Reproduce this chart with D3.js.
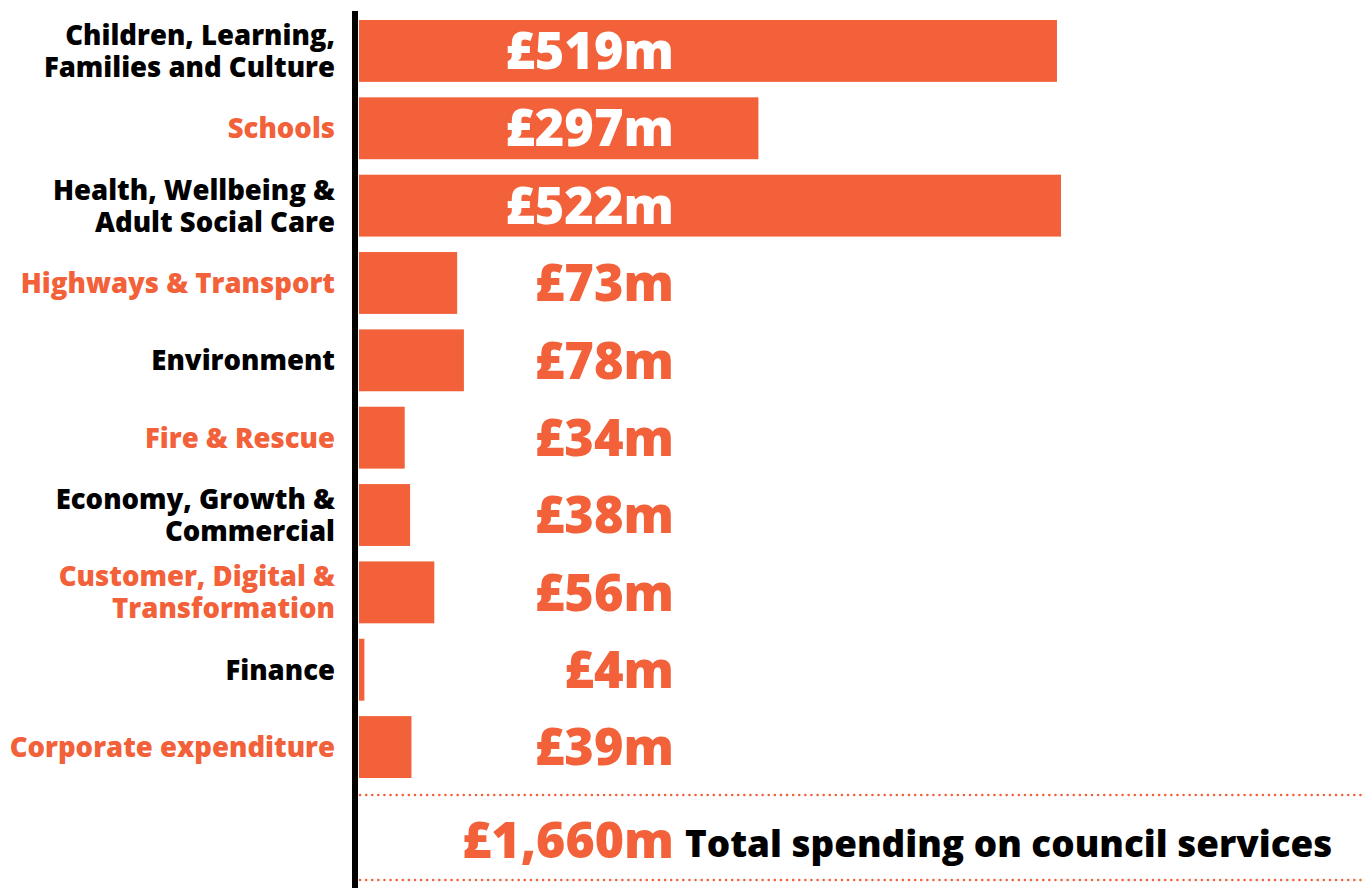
<!DOCTYPE html>
<html>
<head>
<meta charset="utf-8">
<script src="https://cdn.jsdelivr.net/npm/d3@7"></script>
<style>
  body { margin: 0; background: #fff; }
  svg { display: block; font-family: "Open Sans", sans-serif; font-weight: 800; }
</style>
</head>
<body>
<div id="chart"></div>
<script>
// chart data
const categories = [
    ["Children, Learning,", "Families and Culture"],
    ["Schools"],
    ["Health, Wellbeing &", "Adult Social Care"],
    ["Highways & Transport"],
    ["Environment"],
    ["Fire & Rescue"],
    ["Economy, Growth &", "Commercial"],
    ["Customer, Digital &", "Transformation"],
    ["Finance"],
    ["Corporate expenditure"]
];
const values = [519, 297, 522, 73, 78, 34, 38, 56, 4, 39];
const valueLabels = ["£519m", "£297m", "£522m", "£73m", "£78m", "£34m", "£38m", "£56m", "£4m", "£39m"];
const totalLabel = "£1,660m";
const totalText = "Total spending on council services";

const orange = "#f26139";
const W = 1365, H = 888;

const svg = d3.select("#chart").append("svg")
    .attr("width", W)
    .attr("height", H);

// scales
const y = d3.scaleBand()
    .domain(d3.range(values.length))
    .range([20, 778])
    .paddingInner(0.2)
    .paddingOuter(0);

const x = d3.scaleLinear()
    .domain([0, 522])
    .range([359, 1061]);

// bars
svg.selectAll("rect.bar")
    .data(values)
    .join("rect")
    .attr("class", "bar")
    .attr("x", x(0))
    .attr("y", (d, i) => y(i))
    .attr("width", d => x(d) - x(0))
    .attr("height", y.bandwidth())
    .attr("fill", orange);

// value labels, white inside the big bars
svg.selectAll("text.value")
    .data(values)
    .join("text")
    .attr("class", "value")
    .attr("x", 674)
    .attr("y", (d, i) => y(i) + y.bandwidth() / 2)
    .attr("dy", "0.36em")
    .attr("text-anchor", "end")
    .attr("font-size", 50.5)
    .attr("fill", d => (x(d) > 680 ? "#fff" : orange))
    .text((d, i) => valueLabels[i]);

// category labels, alternating colours
const lineH = 32;
svg.selectAll("text.cat")
    .data(categories)
    .join("text")
    .attr("class", "cat")
    .attr("text-anchor", "end")
    .attr("font-size", 27.5)
    .attr("fill", (d, i) => (i % 2 === 0 ? "#000" : orange))
    .each(function (lines, i) {
        const t = d3.select(this);
        const cy = y(i) + y.bandwidth() / 2;
        lines.forEach((line, k) => {
            t.append("tspan")
                .attr("x", 335)
                .attr("y", cy + (k - (lines.length - 1) / 2) * lineH)
                .attr("dy", "0.36em")
                .text(line);
        });
    });

// vertical axis line
svg.append("line")
    .attr("x1", 355).attr("x2", 355)
    .attr("y1", 11).attr("y2", H)
    .attr("stroke", "#000")
    .attr("stroke-width", 6);

// dotted separators around the total
[795, 880].forEach(yy => {
    svg.append("line")
        .attr("x1", 360).attr("x2", W)
        .attr("y1", yy).attr("y2", yy)
        .attr("stroke", orange)
        .attr("stroke-width", 2.5)
        .attr("stroke-linecap", "round")
        .attr("stroke-dasharray", "0.1 6");
});

// total row
svg.append("text")
    .attr("x", 674)
    .attr("y", 858)
    .attr("text-anchor", "end")
    .attr("font-size", 50)
    .attr("fill", orange)
    .text(totalLabel);

svg.append("text")
    .attr("x", 685)
    .attr("y", 857)
    .attr("font-size", 36.8)
    .attr("fill", "#000")
    .text(totalText);
</script>
</body>
</html>
